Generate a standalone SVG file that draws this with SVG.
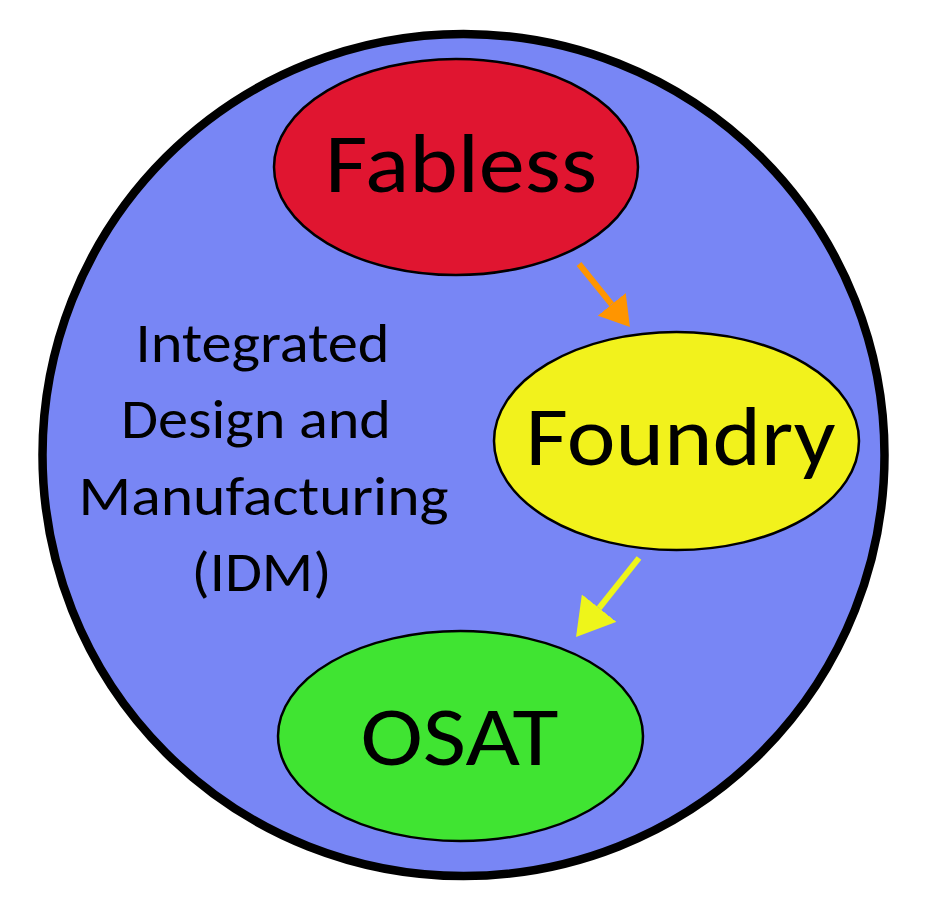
<svg xmlns="http://www.w3.org/2000/svg" width="939" height="897" viewBox="0 0 939 897">
<style>
.big{font-family:Carlito,Lato,"Open Sans","Liberation Sans",sans-serif;font-size:85px;fill:#000;text-anchor:middle}
.idm{font-family:Carlito,Lato,"Open Sans","Liberation Sans",sans-serif;font-size:55px;fill:#000;text-anchor:middle}
.node{stroke:#000;stroke-width:2.5}
.conn{fill:none;stroke-width:6}
</style>
<defs>
<marker id="headO" markerUnits="userSpaceOnUse" markerWidth="30" markerHeight="36" viewBox="0 0 30 36" refX="0" refY="18" orient="auto"><path d="M0,0 L29,18 L0,36 z" fill="#FF9500"/></marker>
<marker id="headY" markerUnits="userSpaceOnUse" markerWidth="38" markerHeight="44" viewBox="0 0 38 44" refX="0" refY="22" orient="auto"><path d="M0,0 L37,22 L0,44 z" fill="#EEF51A"/></marker>
</defs>
<rect width="939" height="897" fill="#fff"/>
<g id="idm">
<circle cx="463.5" cy="455" r="421" fill="#7886F5" stroke="#000" stroke-width="8.5"/>
<text class="idm" x="262.5" y="362" textLength="254" lengthAdjust="spacingAndGlyphs">Integrated</text>
<text class="idm" x="256" y="438" textLength="270" lengthAdjust="spacingAndGlyphs">Design and</text>
<text class="idm" x="263.5" y="515" textLength="370" lengthAdjust="spacingAndGlyphs">Manufacturing</text>
<text class="idm" x="261.5" y="591" textLength="140" lengthAdjust="spacingAndGlyphs">(IDM)</text>
</g>
<g id="fabless">
<ellipse class="node" cx="456" cy="167" rx="182" ry="108" fill="#E01530"/>
<text class="big" x="461" y="192" textLength="272" lengthAdjust="spacingAndGlyphs">Fabless</text>
</g>
<g id="foundry">
<ellipse class="node" cx="676.5" cy="441" rx="182.5" ry="109" fill="#F2F21C"/>
<text class="big" x="680.5" y="465" textLength="310" lengthAdjust="spacingAndGlyphs">Foundry</text>
</g>
<g id="osat">
<ellipse class="node" cx="460.5" cy="736" rx="182.5" ry="105" fill="#40E432"/>
<text class="big" x="459.5" y="765" textLength="198" lengthAdjust="spacingAndGlyphs">OSAT</text>
</g>
<g id="connectors">
<line class="conn" x1="579" y1="264" x2="611.7" y2="304.4" stroke="#FF9500" marker-end="url(#headO)"/>
<line class="conn" x1="639" y1="558" x2="599.1" y2="608.1" stroke="#EEF51A" marker-end="url(#headY)"/>
</g>
</svg>
